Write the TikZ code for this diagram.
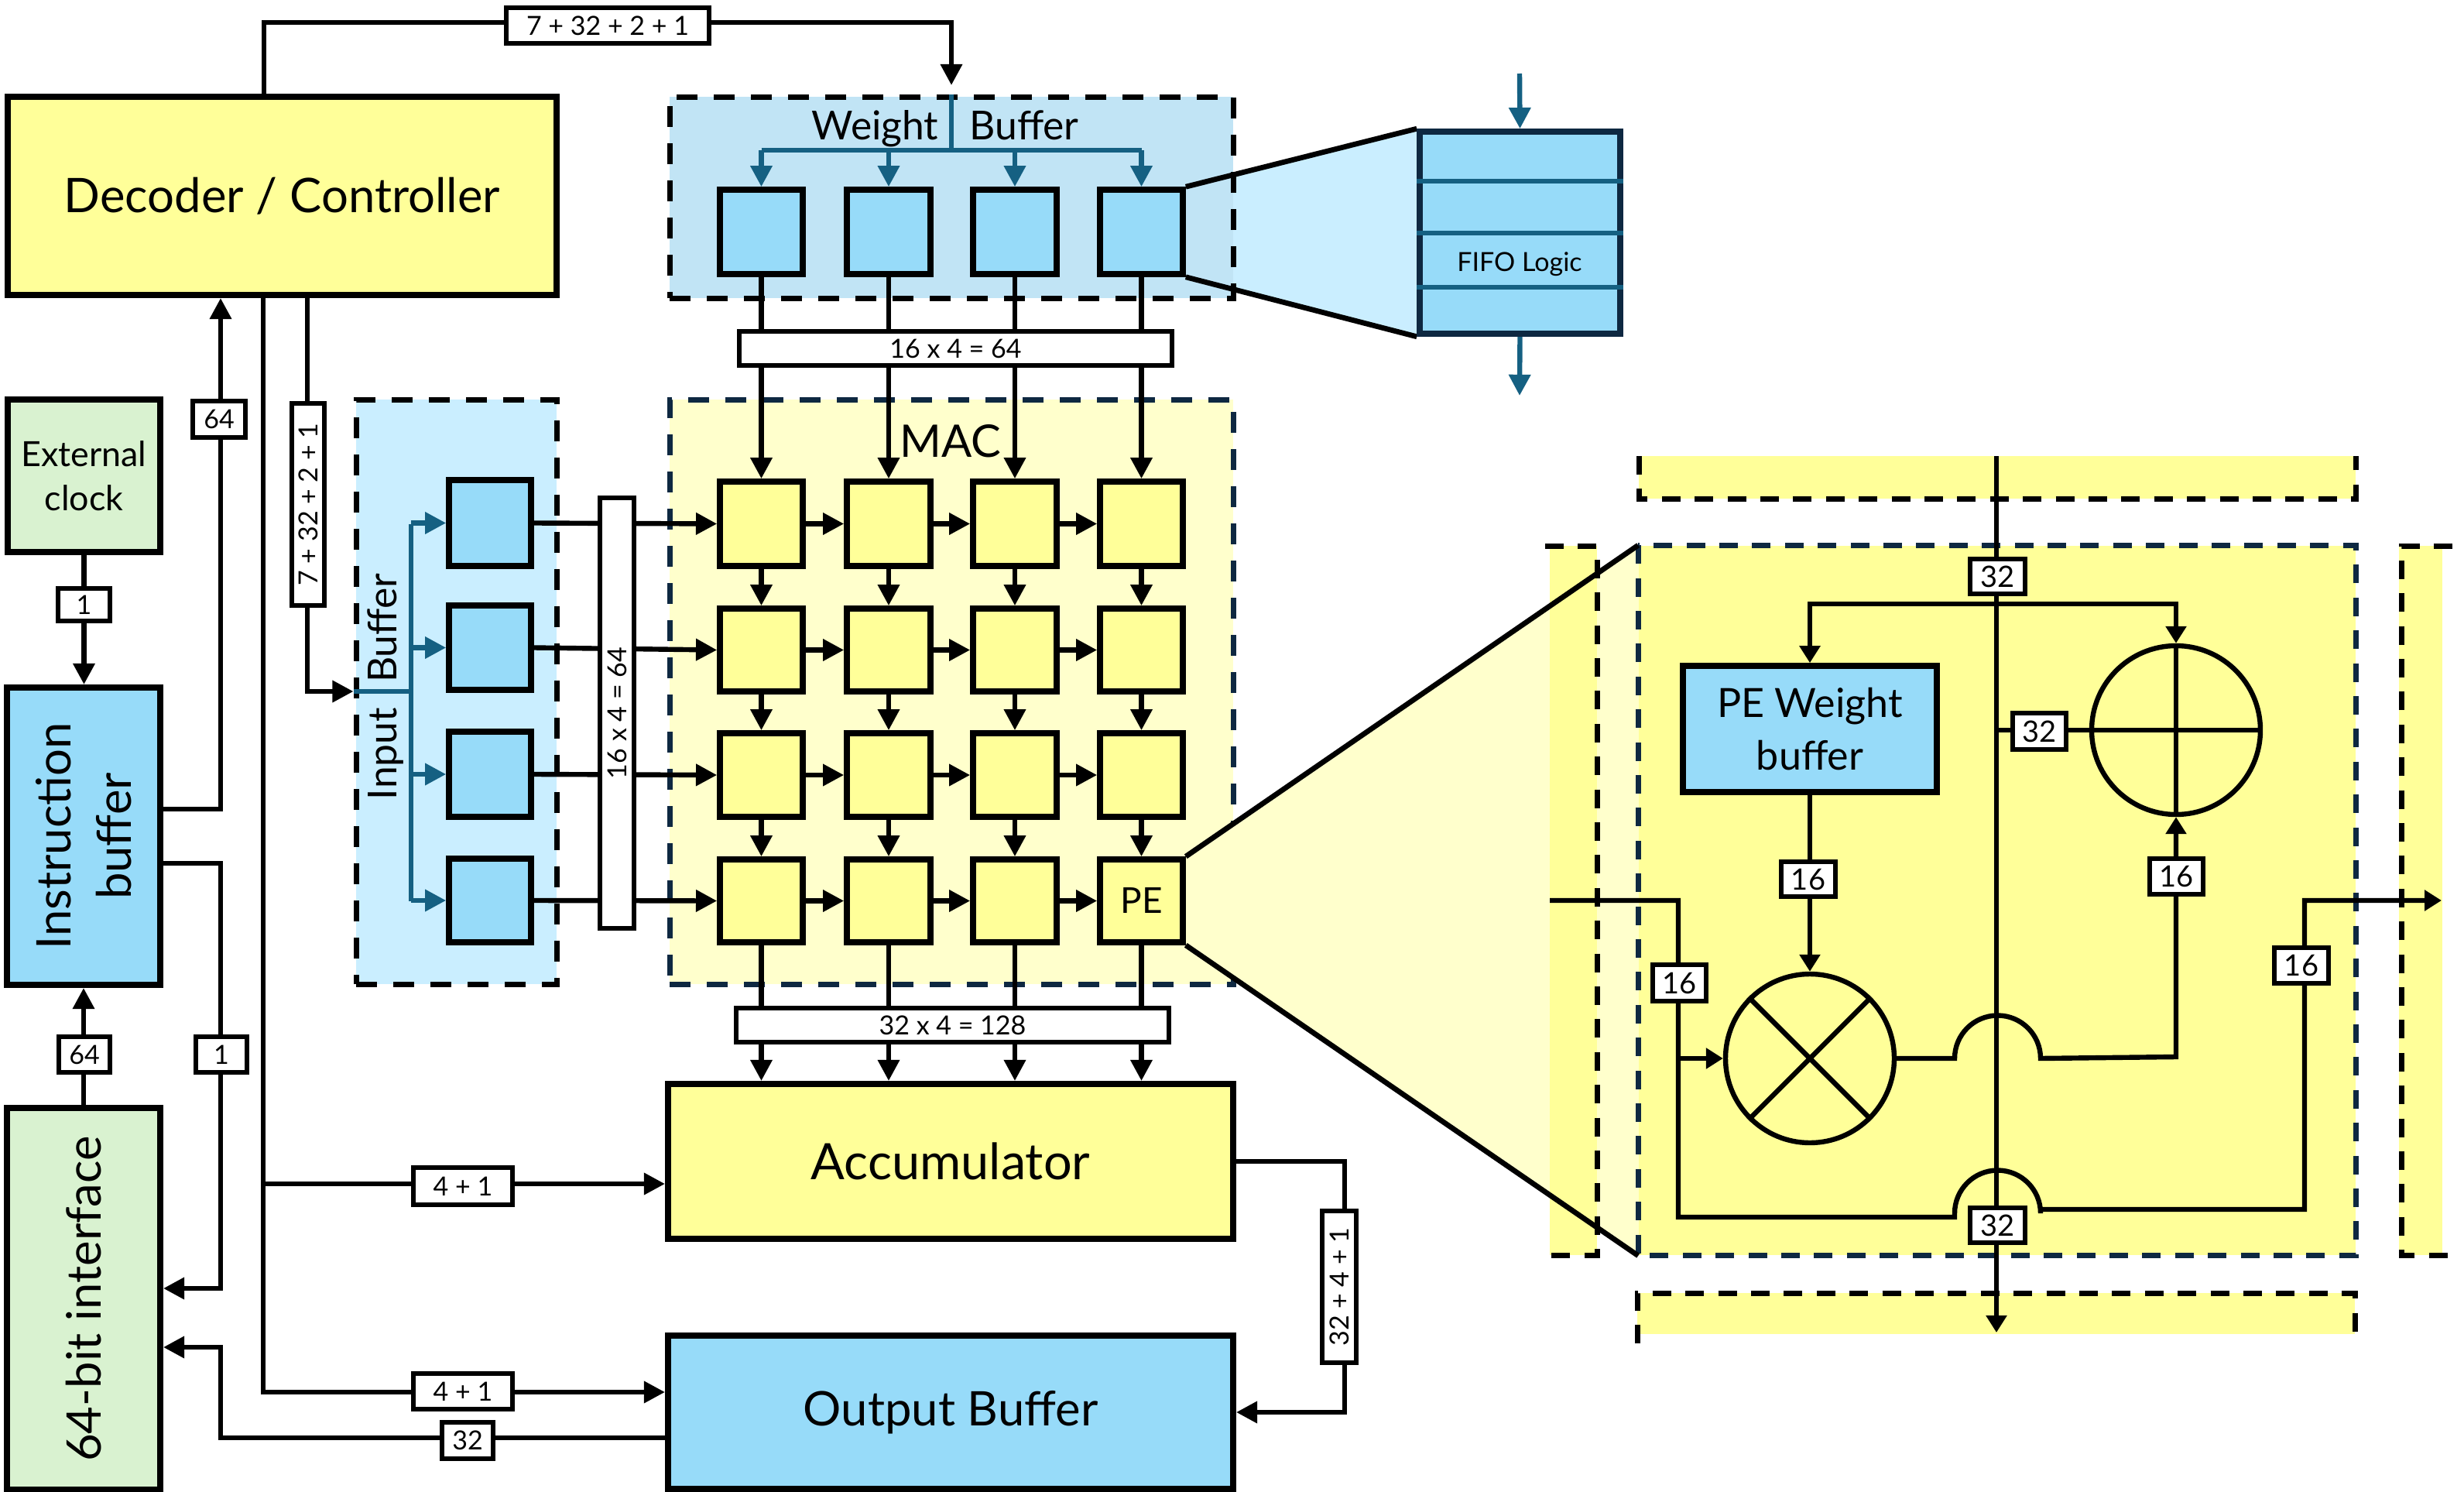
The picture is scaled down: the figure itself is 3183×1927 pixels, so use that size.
\documentclass[tikz,border=0pt]{standalone}
\usepackage{fontspec}
\setmainfont{Lato}
\usepackage{graphicx}
\usetikzlibrary{arrows.meta,backgrounds}
\definecolor{cyel}{HTML}{FFFF99}
\definecolor{cpyel}{HTML}{FFFFCC}
\definecolor{cblue}{HTML}{97DBF9}
\definecolor{cpblue}{HTML}{CAEEFF}
\definecolor{cwreg}{HTML}{C1E4F5}
\definecolor{cgreen}{HTML}{D9F2D0}
\definecolor{cnavy}{HTML}{0E2841}
\definecolor{cteal}{HTML}{156082}
\pgfdeclarelayer{bg}
\pgfdeclarelayer{wires}
\pgfsetlayers{bg,wires,main}
\newcommand{\fsz}[1]{\fontsize{#1}{#1}\selectfont}
\newcommand{\bx}[7]{%
  \pgfmathsetmacro\cx{(#2+#4)/2}\pgfmathsetmacro\cy{(#3+#5)/2}%
  \pgfmathsetmacro\bw{(#4-#2)*0.25}\pgfmathsetmacro\bh{(#5-#3)*0.25}%
  \node[#6,minimum width=\bw pt,minimum height=\bh pt,inner sep=0pt] (#1) at (\cx,\cy) {#7};}
\newcommand{\rot}[1]{\rotatebox{90}{#1}}
\tikzset{
  mainbox/.style={draw=black,line width=2pt,align=center,font=\fsz{15.4}},
  cell/.style={draw=black,line width=1.9pt},
  lab/.style={draw=black,fill=white,line width=1.3pt,align=center,font=\fsz{8.5}},
  dlab/.style={draw=black,fill=white,line width=1.3pt,align=center,font=\fsz{9.5}},
  wire/.style={line width=1.6pt,draw=black},
  wirea/.style={wire,-{Triangle[length=6.8pt,width=6.8pt]}},
  twire/.style={line width=1.6pt,draw=cteal},
  twirea/.style={twire,-{Triangle[length=6.8pt,width=6.8pt]}},
  dwirea/.style={wire,-{Triangle[length=5.5pt,width=6.5pt]}},
  lens/.style={line width=1.7pt,draw=black},
  dashb/.style={line width=1.75pt,dash pattern=on 6.75pt off 5.25pt},
  regionb/.style={dashb,draw=black},
  regionn/.style={dashb,draw=cnavy},
  stripl/.style={line width=1.75pt,draw=black,dash pattern=on 6pt off 4.6pt},
  pedash/.style={line width=1.75pt,draw=cnavy,dash pattern=on 6pt off 4.6pt},
}
\begin{document}
\begin{tikzpicture}[x=0.25pt,y=-0.25pt]
\useasboundingbox (0,0) rectangle (3183,1927);
% ---- main blocks
\bx{dec}{10}{125}{719}{381}{mainbox,fill=cyel}{Decoder / Controller}
\bx{ext}{10}{516}{207}{713}{mainbox,fill=cgreen,font=\fsz{11.2},align=center}{External\\[3pt]clock}
\bx{ibuf}{9}{888}{207}{1272}{mainbox,fill=cblue}{\rot{\shortstack{Instruction\\[5pt]buffer}}}
\bx{ifc}{9}{1431}{207}{1924}{mainbox,fill=cgreen}{\rot{64-bit interface}}
\bx{acc}{863}{1400}{1593}{1600}{mainbox,fill=cyel,font=\fsz{16.2}}{Accumulator}
\bx{obuf}{863}{1725}{1593}{1923}{mainbox,fill=cblue}{Output Buffer}
% ---- weight cells, input cells, PE grid
\foreach \n/\xa/\xb in {1/930/1037,2/1094/1202,3/1257/1365,4/1421/1528}{
  \bx{w\n}{\xa}{245}{\xb}{354}{cell,fill=cblue}{}
}
\foreach \r/\ya/\yb in {1/622/731,2/786/893,3/947/1055,4/1110/1217}{
  \foreach \n/\xa/\xb in {1/930/1037,2/1094/1202,3/1257/1365,4/1421/1528}{
    \bx{p\r\n}{\xa}{\ya}{\xb}{\yb}{cell,fill=cyel}{}
  }
}
\foreach \r/\ya/\yb in {1/620/731,2/782/891,3/945/1055,4/1109/1217}{
  \bx{i\r}{580}{\ya}{686}{\yb}{cell,fill=cblue}{}
}
\node[font=\fsz{11.5}] at (p44) {PE};
% ---- FIFO
\bx{fifo}{1834}{170}{2093}{431}{draw=cnavy,line width=1.9pt,fill=cblue}{}
\node[font=\fsz{8.5}] (fifot) at (1963,341) {FIFO Logic};
\coordinate (fin) at (1963,95);
\coordinate (fout) at (1963,511);
% ---- labels on wires
\bx{ltop}{654}{10}{916}{56}{lab}{7 + 32 + 2 + 1}
\bx{lbw}{955}{428}{1514}{472}{lab}{16 x 4 = 64}
\bx{lbo}{951}{1302}{1510}{1346}{lab}{32 x 4 = 128}
\bx{lv}{377}{521}{419}{782}{lab}{\rot{7 + 32 + 2 + 1}}
\bx{lbi}{775}{643}{819}{1199}{lab}{\rot{16 x 4 = 64}}
\bx{la}{1708}{1564}{1752}{1760}{lab}{\rot{32 + 4 + 1}}
\bx{lext}{75}{760}{142}{802}{lab}{1}
\bx{l64a}{249}{518}{317}{565}{lab}{64}
\bx{l1}{253}{1339}{319}{1385}{lab}{1}
\bx{l64b}{76}{1339}{142}{1385}{lab}{64}
\bx{l41a}{534}{1508}{662}{1556}{lab}{4 + 1}
\bx{l41b}{534}{1774}{662}{1820}{lab}{4 + 1}
\bx{l32}{571}{1837}{637}{1884}{lab}{32}
% ---- PE detail
\bx{wbp}{2174}{860}{2502}{1023}{cell,fill=cblue,align=center,font=\fsz{13}}{PE Weight\\[4pt]buffer}
\node[draw=black,line width=1.6pt,circle,minimum size=54.5pt,inner sep=0pt] (mul) at (2338,1367) {};
\node[draw=black,line width=1.6pt,circle,minimum size=54.5pt,inner sep=0pt] (add) at (2811,943) {};
\bx{d32a}{2545}{722}{2616}{767}{dlab}{32}
\bx{d32b}{2545}{1560}{2616}{1605}{dlab}{32}
\bx{d32c}{2600}{921}{2669}{968}{dlab}{32}
\bx{d16a}{2301}{1113}{2371}{1158}{dlab}{16}
\bx{d16b}{2135}{1246}{2204}{1293}{dlab}{16}
\bx{d16c}{2777}{1109}{2846}{1155}{dlab}{16}
\bx{d16d}{2938}{1224}{3008}{1270}{dlab}{16}
\coordinate (vtop) at (2579,589);
\coordinate (vend) at (2579,1721);
\coordinate (lin) at (2002,1163);
\coordinate (lout) at (3154,1163);
% ---- background: lenses, regions, strips
\begin{pgfonlayer}{bg}
  \fill[cpblue] (w4.north east) -- (fifo.north west) -- (fifo.south west) -- (w4.south east) -- cycle;
  \bx{rw}{865}{125}{1593}{385}{regionb,fill=cwreg}{}
  \bx{rm}{865}{516}{1593}{1271}{regionn,fill=cpyel}{}
  \bx{ri}{460}{516}{719}{1271}{regionb,fill=cpblue}{}
  \fill[cpyel] (p44.north east) -- (2117,705) -- (2117,1621) -- (p44.south east) -- cycle;
  \bx{rpe}{2117}{705}{3043}{1621}{fill=cyel}{}
  \fill[cyel] (2117,589) rectangle (3043,644);
  \fill[cyel] (2002,705) rectangle (2063,1621);
  \fill[cyel] (3099,705) rectangle (3155,1621);
  \fill[cyel] (2115,1670) rectangle (3042,1723);
\end{pgfonlayer}
% ---- region titles
\node[font=\fsz{12.9}] (wbt) at (1221,166) {Weight\hspace{10pt}Buffer};
\node[font=\fsz{12.9},rotate=90] (ibt) at (498,887) {Input\hspace{8pt}Buffer};
\node[font=\fsz{14.5}] (mact) at (1228,570) {MAC};
% ---- wires
\begin{pgfonlayer}{wires}
  % PE detail outline and strip outlines, open towards the outside of the picture
  \draw[pedash] (rpe.north west) rectangle (rpe.south east);
  \draw[stripl] (2117,589) -- (2117,644) -- (3043,644) -- (3043,589);
  \draw[stripl] (1996,705) -- (2063,705) -- (2063,1621) -- (1996,1621);
  \draw[stripl] (3168,705) -- (3102,705) -- (3102,1621) -- (3168,1621);
  \draw[stripl] (2115,1735) -- (2115,1670) -- (3042,1670) -- (3042,1735);
  % decoder outputs
  \coordinate (tw) at (1229,29);
  \coordinate (twe) at (1229,110);
  \draw[wirea] (dec.north -| 341,0) -- (341,29) -- (tw) -- (twe);
  \draw[wirea] (dec.south -| 340,0) -- (340,1798) -- (obuf.west |- 0,1798);
  \draw[wirea] (340,1529) -- (acc.west |- 0,1529);
  \draw[wirea] (dec.south -| 397,0) -- (397,893) -- (ri.west |- 0,893);
  % instruction buffer
  \draw[wirea] (ext.south) -- (ibuf.north -| ext.south);
  \draw[wirea] (ibuf.east |- 0,1045) -- (285,1045) -- (dec.south -| 285,0);
  \draw[wirea] (ibuf.east |- 0,1115) -- (285,1115) -- (285,1664) -- (ifc.east |- 0,1664);
  \draw[wirea] (ifc.north) -- (ibuf.south);
  % output
  \draw[wirea] (obuf.west |- 0,1857) -- (285,1857) -- (285,1740) -- (ifc.east |- 0,1740);
  \draw[wirea] (acc.east |- 0,1500) -- (1737,1500) -- (1737,1824) -- (obuf.east |- 0,1824);
  % columns
  \foreach \n in {1,2,3,4}{
    \draw[wirea] (w\n.south) -- (p1\n.north);
    \draw[wirea] (p1\n.south) -- (p2\n.north);
    \draw[wirea] (p2\n.south) -- (p3\n.north);
    \draw[wirea] (p3\n.south) -- (p4\n.north);
    \draw[wirea] (p4\n.south) -- (acc.north -| p4\n.south);
  }
  % rows
  \foreach \r in {1,2,3,4}{
    \draw[wirea] (i\r.east) -- (p\r1.west);
    \draw[wirea] (p\r1.east) -- (p\r2.west);
    \draw[wirea] (p\r2.east) -- (p\r3.west);
    \draw[wirea] (p\r3.east) -- (p\r4.west);
  }
  % teal
  \draw[twire] (rw.north -| twe) -- (twe |- 0,194);
  \draw[twire] (w1.north |- 0,194) -- (w4.north |- 0,194);
  \foreach \n in {1,2,3,4}{\draw[twirea] (w\n.north |- 0,194) -- (w\n.north);}
  \draw[twire] (ri.west |- 0,893) -- (531,893);
  \draw[twire] (531,677) -- (531,1164);
  \foreach \r in {1,2,3,4}{\draw[twirea] (i\r.west -| 531,0) -- (i\r.west);}
  \draw[twirea] (fin) -- (fifo.north);
  \draw[twirea] (fifo.south) -- (fout);
  % lens outlines
  \draw[lens] (w4.north east) -- (fifo.north west);
  \draw[lens] (w4.south east) -- (fifo.south west);
  \draw[lens] (p44.north east) -- (rpe.north west);
  \draw[lens] (p44.south east) -- (rpe.south west);
  % PE detail
  \draw[dwirea] (vtop) -- (vend);
  \coordinate (jt) at (2579,780);
  \draw[dwirea] (jt) -- (wbp.north |- jt) -- (wbp.north);
  \draw[dwirea] (jt) -- (add.north |- jt) -- (add.north);
  \draw[wire] (add.west) -- (2579,943);
  \draw[dwirea] (wbp.south) -- (mul.north);
  \draw[dwirea] (2168,1367) -- (mul.west);
  \draw[dwirea] (lin) -- (2168,1163) -- (2168,1572) -- (2525,1572) -- (2525,1567) arc[start angle=180,end angle=360,radius=55.5] -- (2636,1562) -- (2977,1562) -- (2977,1163) -- (lout);
  \draw[dwirea] (mul.east) -- (2525,1367) arc[start angle=180,end angle=360,radius=55.5] -- (add.south |- 0,1365) -- (add.south);
\end{pgfonlayer}
% ---- FIFO dividers and circle crosses
\foreach \yy in {234,301,371}{\draw[twire] (fifo.west |- 0,\yy) -- (fifo.east |- 0,\yy);}
\draw[wire] (add.north) -- (add.south);
\draw[wire] (add.west) -- (add.east);
\draw[wire] (mul.45) -- (mul.225);
\draw[wire] (mul.135) -- (mul.315);
\end{tikzpicture}
\end{document}
